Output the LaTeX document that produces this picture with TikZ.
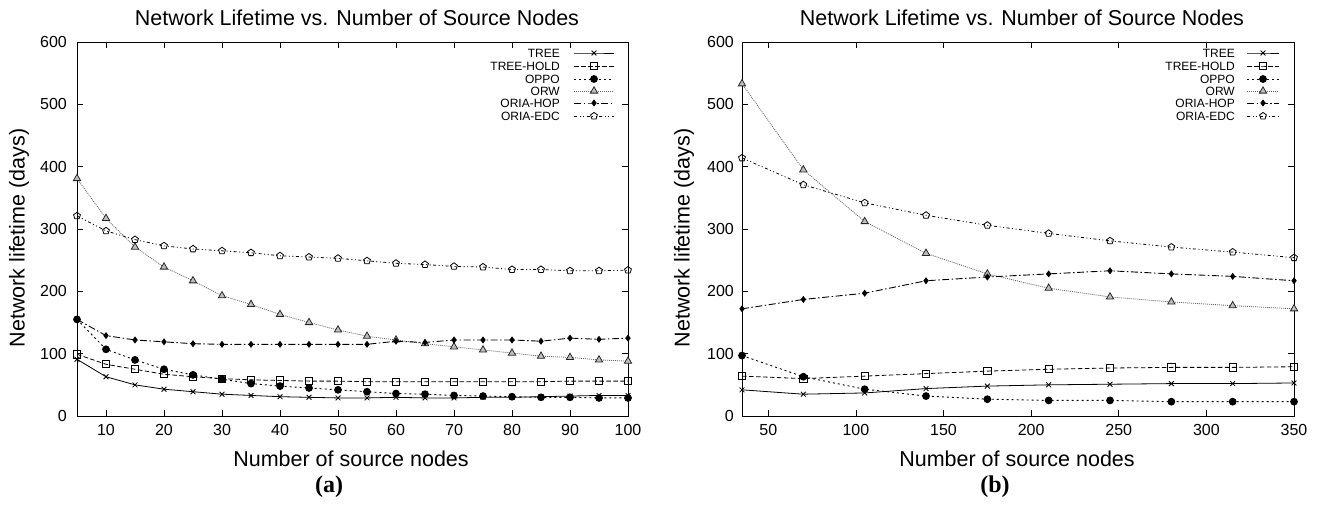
\documentclass[tikz,border=0pt]{standalone}
\usepackage{fontspec}
\setmainfont{Liberation Sans}
\newfontfamily\panelfont{Liberation Serif}
\usetikzlibrary{plotmarks}

\tikzset{
  frame/.style={line width=1pt, black},
  tickmark/.style={line width=0.8pt, black},
  ticklabel/.style={inner sep=0pt, font=\fontsize{16}{16}\selectfont},
  axislabel/.style={inner sep=0pt, font=\fontsize{21.5}{21.5}\selectfont},
  plottitle/.style={inner sep=0pt, anchor=base, font=\fontsize{21.5}{21.5}\selectfont},
  panellabel/.style={inner sep=0pt, font=\panelfont\bfseries\fontsize{24}{24}\selectfont},
  keytext/.style={inner sep=0pt, anchor=east, font=\fontsize{12}{12}\selectfont},
  sTree/.style={line width=0.8pt, black, mark=x, mark size=3.4pt, mark options={solid}},
  sHold/.style={line width=0.8pt, black, dash pattern=on 4.5pt off 2.5pt, mark=square, mark size=3.6pt, mark options={solid}},
  sOppo/.style={line width=0.9pt, black, dash pattern=on 2pt off 3pt, mark=*, mark size=3.4pt, mark options={solid}},
  sOrw/.style={line width=0.8pt, black!60, dash pattern=on 1pt off 1pt, mark=triangle*, mark size=4.2pt, mark options={solid, draw=black!85, fill=black!25}},
  sHop/.style={line width=0.9pt, black, dash pattern=on 7pt off 2.5pt on 1.5pt off 2.5pt, mark=diamond*, mark size=2.8pt, mark options={solid}},
  sEdc/.style={line width=0.8pt, black, dash pattern=on 3pt off 2.5pt on 1pt off 2.5pt on 1pt off 2.5pt, mark=pentagon, mark size=3.6pt, mark options={solid}},
}

\begin{document}
\begin{tikzpicture}[x=1pt, y=1pt]
\useasboundingbox (0,-507) rectangle (1319,0);

% ---------------- left panel: 5..100 source nodes ----------------
\begin{scope}[shift={(48pt,-416pt)}, x=5.8pt, y=0.6233pt]
  \draw[frame] (5,0) rectangle (100,600);
  \foreach \v in {10,20,...,100} {
    \draw[tickmark] (\v,0) -- ++(0pt,6pt);
    \draw[tickmark] (\v,600) -- ++(0pt,-6pt);
    \node[ticklabel, anchor=north] at ([yshift=-8pt]\v,0) {\v};
  }
  \foreach \v in {0,100,...,600} {
    \draw[tickmark] (5,\v) -- ++(6pt,0pt);
    \draw[tickmark] (100,\v) -- ++(-6pt,0pt);
    \node[ticklabel, anchor=east] at ([xshift=-10pt]5,\v) {\v};
  }
  \draw[sTree] plot coordinates {(5,91)(10,63)(15,50)(20,43)(25,39)(30,35)(35,33)(40,31)(45,30)(50,29)(55,29)(60,30)(65,29)(70,29)(75,30)(80,30)(85,31)(90,32)(95,33)(100,33)};
  \draw[sHold] plot coordinates {(5,99)(10,83)(15,75)(20,67)(25,63)(30,60)(35,58)(40,57)(45,56)(50,56)(55,55)(60,55)(65,55)(70,55)(75,55)(80,55)(85,55)(90,56)(95,56)(100,56)};
  \draw[sOppo] plot coordinates {(5,155)(10,107)(15,90)(20,75)(25,66)(30,59)(35,52)(40,48)(45,45)(50,42)(55,39)(60,36)(65,35)(70,33)(75,32)(80,31)(85,30)(90,30)(95,29)(100,29)};
  \draw[sOrw] plot coordinates {(5,381)(10,317)(15,271)(20,239)(25,217)(30,193)(35,179)(40,163)(45,150)(50,138)(55,128)(60,122)(65,116)(70,111)(75,106)(80,101)(85,96)(90,94)(95,90)(100,88)};
  \draw[sHop] plot coordinates {(5,155)(10,129)(15,122)(20,119)(25,116)(30,115)(35,115)(40,115)(45,115)(50,115)(55,115)(60,120)(65,118)(70,122)(75,122)(80,122)(85,120)(90,125)(95,123)(100,125)};
  \draw[sEdc] plot coordinates {(5,321)(10,297)(15,283)(20,273)(25,268)(30,265)(35,262)(40,257)(45,255)(50,253)(55,249)(60,245)(65,243)(70,240)(75,239)(80,235)(85,235)(90,233)(95,233)(100,234)};
\end{scope}

% ---------------- right panel: 35..350 source nodes ----------------
\begin{scope}[shift={(680.67pt,-416pt)}, x=1.7524pt, y=0.6233pt]
  \draw[frame] (35,0) rectangle (350,600);
  \foreach \v in {50,100,...,350} {
    \draw[tickmark] (\v,0) -- ++(0pt,6pt);
    \draw[tickmark] (\v,600) -- ++(0pt,-6pt);
    \node[ticklabel, anchor=north] at ([yshift=-8pt]\v,0) {\v};
  }
  \foreach \v in {0,100,...,600} {
    \draw[tickmark] (35,\v) -- ++(6pt,0pt);
    \draw[tickmark] (350,\v) -- ++(-6pt,0pt);
    \node[ticklabel, anchor=east] at ([xshift=-8pt]35,\v) {\v};
  }
  \draw[sTree] plot coordinates {(35,42)(70,35)(105,37)(140,44)(175,48)(210,50)(245,51)(280,52)(315,52)(350,53)};
  \draw[sHold] plot coordinates {(35,64)(70,60)(105,64)(140,68)(175,72)(210,75)(245,77)(280,78)(315,78)(350,79)};
  \draw[sOppo] plot coordinates {(35,97)(70,63)(105,43)(140,32)(175,27)(210,25)(245,25)(280,23)(315,23)(350,23)};
  \draw[sOrw] plot coordinates {(35,533)(70,395)(105,312)(140,261)(175,228)(210,205)(245,191)(280,183)(315,177)(350,172)};
  \draw[sHop] plot coordinates {(35,172)(70,187)(105,197)(140,217)(175,223)(210,228)(245,233)(280,228)(315,224)(350,217)};
  \draw[sEdc] plot coordinates {(35,414)(70,371)(105,342)(140,322)(175,306)(210,293)(245,281)(280,271)(315,263)(350,254)};
\end{scope}

% ---------------- titles, axis labels, panel letters ----------------
\node[plottitle] (titleA) at (357,-25) {Network Lifetime vs. Number of Source Nodes};
\node[plottitle] (titleB) at (1022,-25) {Network Lifetime vs. Number of Source Nodes};
\node[axislabel, rotate=90] (ylabA) at (19,-238) {Network lifetime (days)};
\node[axislabel, rotate=90] (ylabB) at (684,-238) {Network lifetime (days)};
\node[axislabel, anchor=base] (xlabA) at (351,-466) {Number of source nodes};
\node[axislabel, anchor=base] (xlabB) at (1017,-466) {Number of source nodes};
\node[panellabel] (panA) at (329,-487) {(a)};
\node[panellabel] (panB) at (995,-487) {(b)};

% ---------------- keys ----------------
\foreach \lx/\ax/\bx in {560/574/614, 1235/1247/1279} {
  \node[keytext] at (\lx,-53) {TREE};
  \node[keytext] at (\lx,-66) {TREE-HOLD};
  \node[keytext] at (\lx,-79) {OPPO};
  \node[keytext] at (\lx,-91) {ORW};
  \node[keytext] at (\lx,-103) {ORIA-HOP};
  \node[keytext] at (\lx,-116) {ORIA-EDC};
  \pgfmathsetmacro{\mx}{(\ax+\bx)/2}
  \draw[sTree, mark indices={2}] plot coordinates {(\ax,-53)(\mx,-53)(\bx,-53)};
  \draw[sHold, mark indices={2}] plot coordinates {(\ax,-66)(\mx,-66)(\bx,-66)};
  \draw[sOppo, mark indices={2}] plot coordinates {(\ax,-79)(\mx,-79)(\bx,-79)};
  \draw[sOrw, mark indices={2}] plot coordinates {(\ax,-91)(\mx,-91)(\bx,-91)};
  \draw[sHop, mark indices={2}] plot coordinates {(\ax,-103)(\mx,-103)(\bx,-103)};
  \draw[sEdc, mark indices={2}] plot coordinates {(\ax,-116)(\mx,-116)(\bx,-116)};
}
\end{tikzpicture}
\end{document}
